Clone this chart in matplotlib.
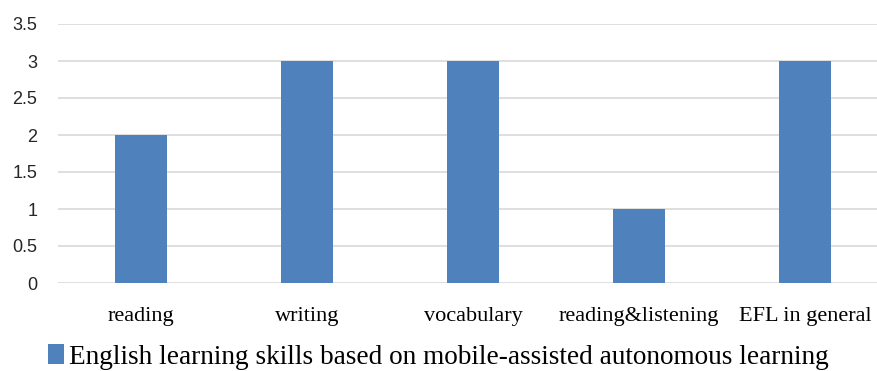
import matplotlib
matplotlib.use('Agg')
import matplotlib.pyplot as plt
import numpy as np

categories = ['reading', 'writing', 'vocabulary', 'reading&listening', 'EFL in general']
values = [2, 3, 3, 1, 3]
series_name = 'English learning skills based on mobile-assisted autonomous learning'
yticks = [0, 0.5, 1, 1.5, 2, 2.5, 3, 3.5]

W, H = 877, 371
fig = plt.figure(figsize=(W / 100, H / 100), dpi=100)
# plot area runs a little past the right edge, as in the reference
ax = fig.add_axes([58 / W, (H - 283) / H, 830 / W, 259 / H])

x = np.arange(len(categories))
ax.bar(x, values, width=0.315, color='#4F81BD', zorder=3, label=series_name)
ax.set_xlim(-0.5, len(categories) - 0.5)
ax.set_ylim(0, 3.5)
ax.set_yticks(yticks)
ax.set_yticklabels(['{:g}'.format(t) for t in yticks], fontsize=13,
                   family='Liberation Sans', color='#262626')
ax.set_xticks(x)
ax.set_xticklabels(categories, fontsize=16, family='Liberation Serif')
ax.tick_params(axis='both', length=0)
ax.tick_params(axis='y', pad=15)
ax.tick_params(axis='x', pad=17)
ax.grid(axis='y', color='#D9D9D9', linewidth=1.2, zorder=0)
for s in ax.spines.values():
    s.set_visible(False)

fig.legend(loc='lower left', bbox_to_anchor=(23 / W, -23 / H), frameon=False,
           prop={'family': 'Liberation Serif', 'size': 19.6},
           handlelength=0.6, handleheight=0.75, handletextpad=0.2)

plt.savefig('out.png', dpi=100)
